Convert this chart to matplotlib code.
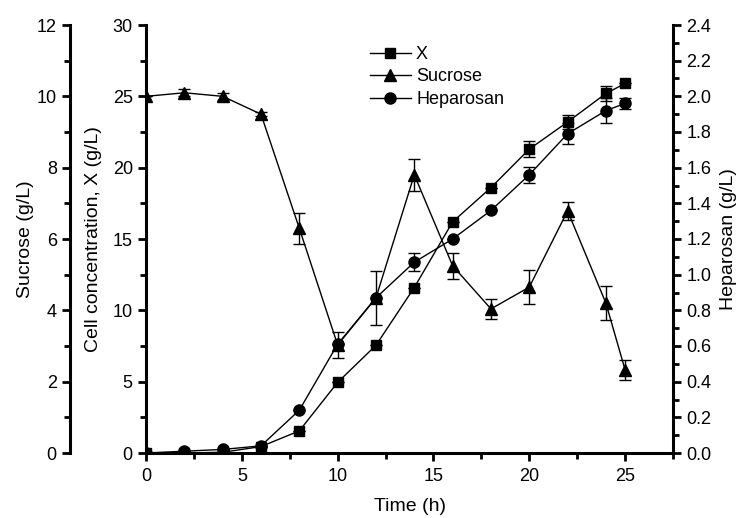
import matplotlib
matplotlib.use("Agg")
import matplotlib.pyplot as plt
from matplotlib.ticker import MultipleLocator, FormatStrFormatter
from matplotlib.lines import Line2D

plt.rcParams['font.family'] = ['Liberation Sans', 'DejaVu Sans']

time_x = [0, 2, 4, 6, 8, 10, 12, 14, 16, 18, 20, 22, 24, 25]
cell_x = [0.0, 0.0, 0.05, 0.45, 1.55, 4.95, 7.55, 11.6, 16.2, 18.6, 21.3, 23.2, 25.2, 25.9]
cell_err = [0, 0, 0, 0, 0, 0, 0, 0, 0, 0, 0.55, 0.5, 0.5, 0]

sucrose = [10.0, 10.1, 10.0, 9.5, 6.3, 3.03, 4.35, 7.8, 5.25, 4.04, 4.65, 6.79, 4.2, 2.33]
sucrose_err = [0, 0.1, 0.1, 0.05, 0.43, 0.37, 0.76, 0.45, 0.37, 0.28, 0.47, 0.25, 0.48, 0.28]

heparosan = [0.0, 0.01, 0.02, 0.04, 0.24, 0.61, 0.87, 1.07, 1.2, 1.36, 1.56, 1.79, 1.92, 1.96]
hep_err = [0, 0, 0, 0, 0, 0, 0, 0.05, 0, 0, 0.045, 0.06, 0.07, 0.03]

fig = plt.figure(figsize=(7.4, 5.18), dpi=100)
L, R, B, T = 146/740, 673/740, (518-453)/518, (518-25)/518
ax = fig.add_axes([L, B, R-L, T-B])
ax_s = ax.twinx()
ax_h = ax.twinx()

lw_sp = 2.2
ms = 7
tfs = 13
lfs = 14

# Cell concentration (main axis)
ax.errorbar(time_x, cell_x, yerr=cell_err, color='black', marker='s', ms=ms,
            lw=1, capsize=4, elinewidth=1, capthick=1, zorder=3)
ax.set_xlim(0, 27.5)
ax.set_ylim(0, 30)
ax.xaxis.set_major_locator(MultipleLocator(5))
ax.xaxis.set_minor_locator(MultipleLocator(2.5))
ax.yaxis.set_major_locator(MultipleLocator(5))
ax.yaxis.set_minor_locator(MultipleLocator(2.5))
ax.spines['top'].set_visible(False)
ax.spines['right'].set_visible(False)
for s in ['left', 'bottom']:
    ax.spines[s].set_linewidth(lw_sp)
ax.tick_params(which='major', direction='out', length=6, width=2, labelsize=tfs)
ax.tick_params(which='minor', direction='out', length=4, width=2)
ax.tick_params(axis='x', which='major', pad=5)
ax.set_xlabel('Time (h)', fontsize=lfs, labelpad=9)
ax.set_ylabel('Cell concentration, X (g/L)', fontsize=lfs, labelpad=8)

# Sucrose axis (outer left)
ax_s.errorbar(time_x, sucrose, yerr=sucrose_err, color='black', marker='^', ms=ms+1,
              lw=1, capsize=4, elinewidth=1, capthick=1, zorder=3)
ax_s.set_ylim(0, 12)
ax_s.yaxis.set_label_position('left')
ax_s.yaxis.set_ticks_position('left')
ax_s.spines['left'].set_position(('axes', (70-146)/(673-146)))
ax_s.spines['left'].set_visible(True)
ax_s.spines['left'].set_linewidth(lw_sp)
for s in ['top', 'right', 'bottom']:
    ax_s.spines[s].set_visible(False)
ax_s.yaxis.set_major_locator(MultipleLocator(2))
ax_s.yaxis.set_minor_locator(MultipleLocator(1))
ax_s.tick_params(which='major', direction='out', length=6, width=2, labelsize=tfs)
ax_s.tick_params(which='minor', direction='out', length=4, width=2)
ax_s.set_ylabel('Sucrose (g/L)', fontsize=lfs, labelpad=2)

# Heparosan axis (right)
ax_h.errorbar(time_x, heparosan, yerr=hep_err, color='black', marker='o', ms=ms+1,
              lw=1, capsize=4, elinewidth=1, capthick=1, zorder=3)
ax_h.set_ylim(0, 2.4)
ax_h.spines['right'].set_linewidth(lw_sp)
for s in ['top', 'left', 'bottom']:
    ax_h.spines[s].set_visible(False)
ax_h.yaxis.set_major_locator(MultipleLocator(0.2))
ax_h.yaxis.set_minor_locator(MultipleLocator(0.1))
ax_h.yaxis.set_major_formatter(FormatStrFormatter('%.1f'))
ax_h.tick_params(which='major', direction='out', length=6, width=2, labelsize=tfs)
ax_h.tick_params(which='minor', direction='out', length=4, width=2)
ax_h.set_ylabel('Heparosan (g/L)', fontsize=lfs, labelpad=6)

handles = [
    Line2D([], [], color='black', marker='s', ms=ms, lw=1),
    Line2D([], [], color='black', marker='^', ms=ms+1, lw=1),
    Line2D([], [], color='black', marker='o', ms=ms+1, lw=1),
]
ax_h.legend(handles, ['X', 'Sucrose', 'Heparosan'], loc='upper left',
            bbox_to_anchor=((370-146)/527, (453-46)/428), frameon=False, fontsize=tfs,
            handlelength=2.25, handletextpad=0.3, labelspacing=0.3, borderpad=0,
            borderaxespad=0)

fig.savefig('out.png', dpi=100)
